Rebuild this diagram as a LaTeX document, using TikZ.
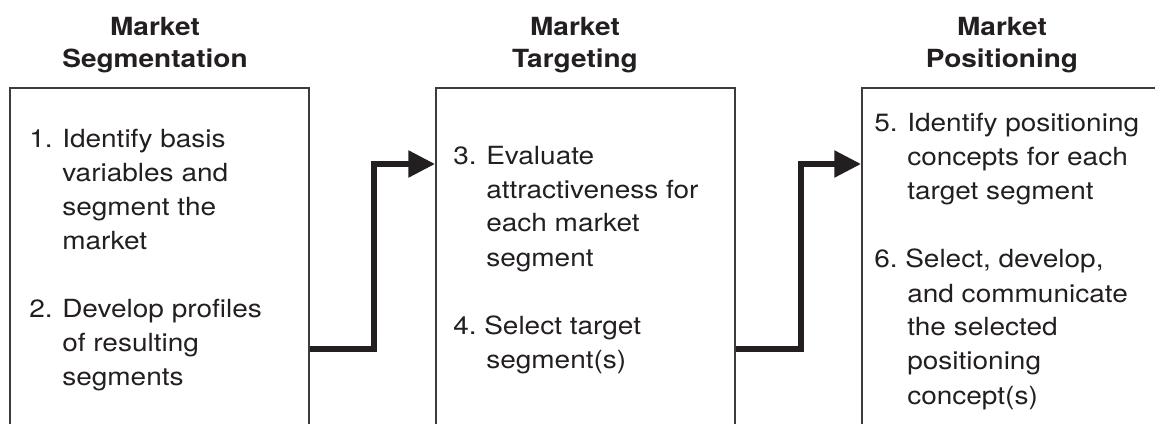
\documentclass[tikz,border=0pt]{standalone}
\usepackage{fontspec}
\setmainfont{TeX Gyre Heros}[FakeStretch=1.12]
\usetikzlibrary{arrows.meta,calc}
\definecolor{ink}{RGB}{35,31,32}
\definecolor{frame}{RGB}{60,60,60}
\newcommand{\bodyfont}{\fontsize{18.75}{25.5}\selectfont}
\newcommand{\headfont}{\fontsize{18.75}{24}\selectfont\bfseries}
\newcommand{\itemnum}[2][24.75pt]{\makebox[#1][l]{#2}}
\begin{document}
\begin{tikzpicture}[x=0.75pt,y=-0.75pt,
  stage/.style={draw=frame,line width=1.5pt,minimum width=224.25pt,minimum height=300pt,anchor=north west,inner sep=0pt},
  head/.style={anchor=base,inner sep=0pt,text=ink,font=\headfont},
  body/.style={anchor=base west,inner sep=0pt,text=ink,font=\bodyfont},
  flow/.style={draw=ink,line width=4pt,-{Triangle[length=20pt,width=19.5pt]}}]
\useasboundingbox (0,0) rectangle (1155,424);
\clip (0,0) rectangle (1155,424);
% boxes
\node[stage] (seg) at (9,87) {};
\node[stage] (tar) at (435,87) {};
\node[stage] (pos) at (861,87) {};
% headings
\node[head] (segh) at (155,36) {\begin{tabular}[t]{@{}c@{}}Market\\Segmentation\end{tabular}};
\node[head] (tarh) at (575,36) {\begin{tabular}[t]{@{}c@{}}Market\\Targeting\end{tabular}};
\node[head] (posh) at (1002,36) {\begin{tabular}[t]{@{}c@{}}Market\\Positioning\end{tabular}};
% texts
\node[body] (segt) at (29,147) {\begin{tabular}[t]{@{}l@{}}
\itemnum{1.}Identify basis\\
\itemnum{}variables and\\
\itemnum{}segment the\\
\itemnum{}market\\
\\
\itemnum{2.}Develop profiles\\
\itemnum{}of resulting\\
\itemnum{}segments
\end{tabular}};
\node[body] (tart) at (453,164) {\begin{tabular}[t]{@{}l@{}}
\itemnum{3.}Evaluate\\
\itemnum{}attractiveness for\\
\itemnum{}each market\\
\itemnum{}segment\\
\\
\itemnum[23.25pt]{4.}Select target\\
\itemnum{}segment(s)
\end{tabular}};
\node[body] (post) at (874,132) {\begin{tabular}[t]{@{}l@{}}
\itemnum{5.}Identify positioning\\
\itemnum{}concepts for each\\
\itemnum{}target segment\\
\\
\itemnum[23.25pt]{6.}Select, develop,\\
\itemnum{}and communicate\\
\itemnum{}the selected\\
\itemnum{}positioning\\
\itemnum{}concept(s)
\end{tabular}};
% connectors
\draw[flow] ($(seg.north east)+(0,262)$) -- ++(64,0) |- ($(tar.north west)+(0,77)$);
\draw[flow] ($(tar.north east)+(0,262)$) -- ++(65,0) |- ($(pos.north west)+(0,77)$);
\end{tikzpicture}
\end{document}
